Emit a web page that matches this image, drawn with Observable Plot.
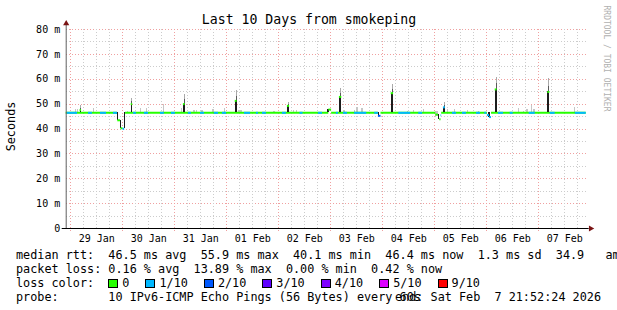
<!DOCTYPE html>
<html>
<head>
<meta charset="utf-8">
<script src="https://cdn.jsdelivr.net/npm/d3@7"></script>
<script src="https://cdn.jsdelivr.net/npm/@observablehq/plot@0.6"></script>
<style>
  html, body { margin: 0; padding: 0; background: #fff; overflow: hidden; width: 617px; height: 310px; }
  #legend { font-family: "DejaVu Sans Mono", monospace; font-size: 11.8px; line-height: 14px; color: #000; padding: 3px 0 0 16px; white-space: pre; position: relative; }
  .line { position: relative; height: 14px; }
  .box { display: inline-block; width: 8px; height: 7px; border: 1px solid #000; vertical-align: -1px; margin-right: 4px; }
  .item { display: inline-block; margin-right: 16px; }
  .end { position: absolute; right: 16px; top: 0; }
</style>
</head>
<body>
<div id="chart"></div>
<div id="legend"></div>
<script>
// ---------- data (time as hours since graph start, values in ms) ----------
const graphStartUTC = [2026, 0, 28, 21, 52, 24];
const graphHours = 240;
const titleText = "Last 10 Days from smokeping";
const yAxisTitle = "Seconds";
const watermark = "RRDTOOL / TOBI OETIKER";
const dayLabels = ["29 Jan","30 Jan","31 Jan","01 Feb","02 Feb","03 Feb","04 Feb","05 Feb","06 Feb","07 Feb"];
const yTickValues = [0, 10, 20, 30, 40, 50, 60, 70, 80];
const yTickLabels = ["0","10 m","20 m","30 m","40 m","50 m","60 m","70 m","80 m"];
const lossLabels = ["0","1/10","2/10","3/10","4/10","5/10","9/10"];
const lossColors = ["#26ff00","#00b8ff","#0059ff","#5e00ff","#7e00ff","#dd00ff","#ff0000"];

// median rtt baseline runs
const baseMs = 46.5;
const baseStart = [0, 27.4, 122.5, 145.3, 173.3, 196.3];
const baseEnd   = [23.7, 121.2, 144.1, 170.6, 194.4, 240];
// stretches of the baseline with 1/10 loss
const cyanStart = [0.4,10.3,15.8,21.8,31.1,36.1,43.5,48.6,56.4,62.0,68.4,72.1,82.3,87.8,90.6,99.8,107.9,116.4,124.7,128.0,133.1,142.4,153.5,162.7,178.3,182.9,189.4,193.2,199.5,204.9,213.7,223.4,235.0];
const cyanEnd   = [5.2,12.1,18.6,23.7,32.4,38.0,45.3,50.4,57.8,63.8,70.3,74.0,85.1,88.7,92.4,101.6,109.3,118.3,125.6,129.8,138.7,144.1,159.0,164.5,180.1,184.7,191.2,194.1,201.8,206.3,216.5,225.7,240];
// median excursions away from the baseline
const excStart = [6.4,30.0,54.1,78.0,102.1,126.1,150.0,174.1,198.0,222.3,121.2,23.8,25.3,26.2,144.1,170.6,172.4,173.0,194.4,195.4];
const excEnd   = [7.1,30.7,54.9,78.9,103.1,127.2,151.1,175.0,198.9,223.2,122.5,25.1,26.2,27.0,145.3,171.8,173.0,173.3,195.4,196.3];
const excMs    = [47.6,50.0,50.0,51.3,49.3,52.9,54.4,48.7,55.9,54.9,47.8,43.5,40.3,40.1,45.3,45.8,43.9,45.5,45.6,44.8];
const excLoss  = [0,0,0,0,0,0,0,1,0,0,0,0,0,1,2,0,0,1,1,1];
// dense smoke (dark core)
const coreStart = [6.4,30.0,54.1,78.0,102.1,126.1,150.0,174.1,198.0,222.3,120.8,23.7,25.0,26.9,144.1,171.8,195.1];
const coreEnd   = [7.1,30.7,54.9,78.9,103.1,127.2,151.1,175.0,198.9,223.2,121.3,24.3,25.5,27.4,144.6,172.4,195.6];
const coreLow   = [46.5,46.5,46.5,46.5,46.5,46.5,46.5,46.5,46.5,46.5,46.5,43.5,40.3,40.1,45.3,43.9,44.8];
const coreHigh  = [47.6,50.0,50.0,51.3,49.3,52.9,54.4,48.7,55.9,54.9,47.8,46.5,43.5,46.5,46.5,45.8,46.5];
// smoke tips above the spikes
const tipStart = [6.7,30.3,54.5,78.4,102.6,126.6,150.5,174.5,198.4,222.7];
const tipEnd   = [7.1,30.7,54.9,78.9,103.1,127.2,151.1,175.0,198.9,223.2];
const tipLow   = [47.6,50.0,50.0,51.3,49.3,52.9,54.4,48.7,55.9,54.9];
const tipHigh  = [49.4,52.1,53.9,55.5,50.6,56.2,57.9,50.8,60.8,60.2];
// faint smoke
const faintStart = [4.3,5.0,12.7,28.2,34.3,37.1,42.9,44.9,53.1,58.6,60.0,62.4,67.5,73.2,79.7,95.8,105.0,106.3,128.0,133.0,134.1,136.4,157.6,160.3,164.9,170.6,176.1,179.1,185.1,190.3,208.9,211.2,212.4,214.7,215.8,217.4,234.6];
const faintEnd   = [4.8,5.5,13.1,28.9,34.6,37.4,43.2,45.4,53.5,59.5,60.7,63.2,68.6,73.7,81.2,96.7,105.5,106.7,128.8,133.4,134.9,137.2,158.0,160.7,165.4,172.0,176.4,179.5,185.5,190.8,209.2,211.5,213.2,215.1,216.7,217.7,235.1];
const faintLow   = [46.5,46.5,46.5,46.5,46.5,46.5,46.5,46.5,46.5,46.5,46.5,46.5,46.5,46.5,46.5,46.5,46.5,46.5,46.5,46.5,46.5,46.5,46.5,46.5,46.5,45.2,46.5,46.5,46.5,46.5,46.5,46.5,46.5,46.5,46.5,46.5,46.5];
const faintHigh  = [47.8,47.8,48.4,47.2,48.4,48.4,47.2,49.8,48.4,47.5,47.5,47.5,47.8,48.4,47.5,47.0,47.5,47.5,47.5,47.5,48.6,48.4,47.2,47.5,47.8,47.2,47.7,47.8,47.5,46.9,48.4,47.0,47.8,49.3,47.8,48.7,48.7];

// legend texts
const rttLabel = "median rtt:";
const rttStats = ["46.5 ms avg","55.9 ms max","40.1 ms min","46.4 ms now","1.3 ms sd","34.9   am/as"];
const lossLabel = "packet loss:";
const lossStats = ["0.16 % avg","13.89 % max","0.00 % min","0.42 % now"];
const lossColorLabel = "loss color:";
const probeLabel = "probe:";
const probeText = "10 IPv6-ICMP Echo Pings (56 Bytes) every 60s";
const endText = "end: Sat Feb  7 21:52:24 2026";

// ---------- helpers ----------
const START = Date.UTC(...graphStartUTC);
const t = h => new Date(START + h * 3600e3);
const zipRange = (s, e, extra = {}) => s.map((v, i) => ({s: v, e: e[i], ...Object.fromEntries(Object.entries(extra).map(([k, a]) => [k, a[i]]))}));

const baseRuns = zipRange(baseStart, baseEnd);
const cyanRuns = zipRange(cyanStart, cyanEnd);
const excRuns = zipRange(excStart, excEnd, {v: excMs, l: excLoss});
const core = zipRange(coreStart, coreEnd, {lo: coreLow, hi: coreHigh});
const tips = zipRange(tipStart, tipEnd, {lo: tipLow, hi: tipHigh});
const faint = zipRange(faintStart, faintEnd, {lo: faintLow, hi: faintHigh});

const dStart = t(0), dEnd = t(graphHours);
const sixHours = d3.utcHour.every(6).range(dStart, dEnd);
const xMajor = sixHours.filter(d => d.getUTCHours() === 0);
const xMinor = sixHours.filter(d => d.getUTCHours() !== 0);
const noons = sixHours.filter(d => d.getUTCHours() === 12);
const dayTicks = noons.map((d, i) => ({d, label: dayLabels[i]}));
const yTicks = yTickValues.map((v, i) => ({v, label: yTickLabels[i]}));
const yMinor = d3.range(5, 80, 10);
const yMajor = yTickValues.filter(v => v > 0);

const FONT = "DejaVu Sans Mono";
const gridMinor = {stroke: "#cccccc", strokeDasharray: "1,2", shapeRendering: "crispEdges"};
const gridMajor = {stroke: "#f0a0a0", strokeDasharray: "1,2", shapeRendering: "crispEdges"};
const W = 617, H = 245, mL = 65.7, mR = 31.3, mT = 29, mB = 17;
const frameCx = mL + (W - mL - mR) / 2;

const chart = Plot.plot({
  width: W, height: H,
  marginLeft: mL, marginRight: mR, marginTop: mT, marginBottom: mB,
  x: {type: "utc", domain: [dStart, dEnd], axis: null},
  y: {domain: [0, 80], axis: null},
  style: {fontFamily: FONT, fontSize: "10px", background: "white", overflow: "visible", color: "black"},
  marks: [
    Plot.ruleY(yMinor, gridMinor),
    Plot.ruleY(yMajor, gridMajor),
    Plot.ruleX(xMinor, gridMinor),
    Plot.ruleX(xMajor, {...gridMajor, insetBottom: -3}),
    // faint smoke
    Plot.rect(faint, {x1: d => t(d.s), x2: d => t(d.e), y1: "lo", y2: "hi", fill: "#c6c6c6", shapeRendering: "crispEdges"}),
    // baseline median
    Plot.ruleY(baseRuns, {y: () => baseMs, x1: d => t(d.s), x2: d => t(d.e), stroke: lossColors[0], strokeWidth: 2}),
    Plot.ruleY(cyanRuns, {y: () => baseMs, x1: d => t(d.s), x2: d => t(d.e), stroke: lossColors[1], strokeWidth: 2}),
    // smoke core & tips
    Plot.rect(core, {x1: d => t(d.s), x2: d => t(d.e), y1: "lo", y2: "hi", fill: "#1c1c1c", shapeRendering: "crispEdges"}),
    Plot.rect(tips, {x1: d => t(d.s), x2: d => t(d.e), y1: "lo", y2: d => d.lo + (d.hi - d.lo) * 0.45, fill: "#5a5a5a", shapeRendering: "crispEdges"}),
    Plot.rect(tips, {x1: d => t(d.s), x2: d => t(d.e), y1: d => d.lo + (d.hi - d.lo) * 0.45, y2: "hi", fill: "#a9a9a9", shapeRendering: "crispEdges"}),
    // median excursions
    Plot.ruleY(excRuns, {y: "v", x1: d => t(d.s), x2: d => t(d.e), stroke: d => lossColors[d.l], strokeWidth: 2}),
    // axes lines
    Plot.ruleX([dStart], {stroke: "#606060", insetTop: -4}),
    Plot.ruleY([0], {stroke: "#000", insetLeft: -4, insetRight: -3}),
    Plot.dot([0], {frameAnchor: "top-left", symbol: "triangle", r: 2.3, fill: "#7a1414", stroke: "none", dy: -6}),
    Plot.dot([0], {frameAnchor: "bottom-left", symbol: "triangle", r: 2.3, fill: "#7a1414", stroke: "none", dx: W - mL - mR + 4.5, rotate: 90}),
    // tick labels (through the x and y scales)
    Plot.text(dayTicks, {x: "d", text: "label", frameAnchor: "bottom", dy: 10, lineAnchor: "middle", textAnchor: "middle", fontSize: 10, fill: "#000"}),
    Plot.text(yTicks, {y: "v", text: "label", frameAnchor: "left", dx: -6, lineAnchor: "middle", textAnchor: "end", fontSize: 10, fill: "#000"}),
    // title, axis title, watermark
    Plot.text([titleText], {text: d => d, frameAnchor: "top", dx: 308.5 - frameCx, dy: -10, lineAnchor: "middle", textAnchor: "middle", fontSize: 13.2, fill: "#000"}),
    Plot.text([yAxisTitle], {text: d => d, frameAnchor: "left", dx: 11 - mL, dy: -2.5, rotate: -90, textAnchor: "middle", lineAnchor: "middle", fontSize: 11.8, fill: "#000"}),
    Plot.text([watermark], {text: d => d, frameAnchor: "top-right", dx: 20.3, dy: -24, rotate: 90, textAnchor: "start", lineAnchor: "middle", fontSize: 8, fill: "#b0b0b0"})
  ]
});
document.getElementById("chart").appendChild(chart);

// ---------- legend ----------
const legend = document.getElementById("legend");
function line() { const d = document.createElement("div"); d.className = "line"; legend.appendChild(d); return d; }
line().textContent = rttLabel + "  " + rttStats.join("  ");
line().textContent = lossLabel + " " + lossStats.join("  ");
const l3 = line();
l3.appendChild(document.createTextNode(lossColorLabel + "  "));
lossLabels.forEach((lab, i) => {
  const it = document.createElement("span"); it.className = "item";
  const b = document.createElement("span"); b.className = "box"; b.style.background = lossColors[i];
  it.appendChild(b); it.appendChild(document.createTextNode(lab));
  l3.appendChild(it);
});
const l4 = line();
l4.appendChild(document.createTextNode(probeLabel.padEnd(13, " ") + probeText));
const e = document.createElement("span"); e.className = "end"; e.textContent = endText; l4.appendChild(e);
</script>
</body>
</html>
